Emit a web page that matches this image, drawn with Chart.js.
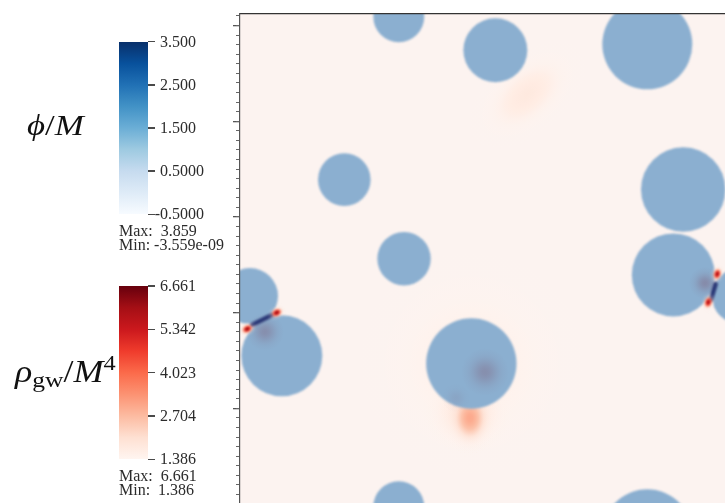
<!DOCTYPE html>
<html>
<head>
<meta charset="utf-8">
<title>Bubble collisions: scalar field and gravitational-wave energy density</title>
<script src="https://cdn.jsdelivr.net/npm/chart.js@4.4.1/dist/chart.umd.min.js"></script>
<style>
  html, body { margin: 0; padding: 0; width: 725px; height: 503px; overflow: hidden; background: #fff; }
  #plot { position: absolute; left: 0; top: 0; }
  .bar { position: absolute; left: 119px; width: 29px; }
  .tick { position: absolute; left: 148px; width: 7px; height: 1.4px; background: #4a4a4a; }
  .lab { position: absolute; font: 16px "Liberation Serif", serif; color: #2b2b2b; line-height: 16px; white-space: pre; }
  .title { position: absolute; font-family: "Liberation Serif", "DejaVu Serif", serif; color: #111; white-space: nowrap; line-height: 1; transform-origin: 0 0; }
  .title i { font-style: italic; }
</style>
</head>
<body>
<canvas id="plot" width="730" height="504"></canvas>
<div class="title" style="left:27px; top:111px; font-size:29px; transform:scaleX(1.2);"><i>ϕ</i>/<i>M</i></div>
<div class="title" style="left:15px; top:356px; font-size:31px; transform:scaleX(1.16);"><i>ρ</i><span style="font-size:22px; position:relative; top:5px;">gw</span>/<i>M</i><span style="font-size:21px; position:relative; top:-12px;">4</span></div>
<script>
// Simulation box side, in grid units (periodic in x and y)
const BOX = 512;

// Bubble centres and radii, grid units
const bubbleX = [165.9, 266.8, 425.6, 109.0, 171.4, 463.1, 452.8, 10.4, 43.7, 241.7];
const bubbleY = [509.1, 474.1, 480.3, 338.9, 256.3, 328.6, 239.3, 217.3, 154.9, 146.8];
const bubbleR = [26.6, 33.4, 47.0, 27.5, 27.9, 44.1, 43.4, 29.3, 42.3, 47.2];

// Gravitational-wave energy density hot spots: centre, peak value, half-widths (grid units), tilt (deg)
const rhoX    = [38.3, 7.6, 498.7, 489.3, 240.3, 300.0, 242.0, 25.0, 238.0];
const rhoY    = [199.9, 182.9, 240.3, 210.8, 90.0, 428.0, 146.8, 185.0, 95.0];
const rhoPeak = [6.3, 6.3, 6.1, 6.1, 3.0, 1.75, 1.55, 2.2, 1.9];
const rhoW    = [7.0, 7.0, 7.0, 7.0, 22, 30, 85, 22, 40];
const rhoH    = [5.0, 5.0, 5.0, 5.0, 30, 52, 85, 22, 36];
const rhoTilt = [-27, -27, 106, 106, 0, 49, 0, 0, 0];

// Compressed field between colliding walls: segment ends, grid units
const wallX1 = [12.5, 496.9];
const wallY1 = [187.0, 229.9];
const wallX2 = [33.4, 492.1];
const wallY2 = [197.5, 213.6];

// Darkened regions inside bubbles: centre, radius (grid units), depth
const shadeX = [26.1, 485.9, 256.0, 225.7];
const shadeY = [180.0, 230.9, 137.9, 110.7];
const shadeR = [20, 17, 25, 15];
const shadeD = [0.45, 0.5, 0.45, 0.14];

// Colour-bar annotations
const phiTicks = ['3.500', '2.500', '1.500', '0.5000', '-0.5000'];
const phiStats = ['Max:  3.859', 'Min: -3.559e-09'];
const rhoTicks = ['6.661', '5.342', '4.023', '2.704', '1.386'];
const rhoStats = ['Max:  6.661', 'Min:  1.386'];
const RHO_MIN = 1.386, RHO_MAX = 6.661;

const REDS  = ['#fff5f0','#fee0d2','#fcbba1','#fc9272','#fb6a4a','#ef3b2c','#cb181d','#a50f15','#67000d'];
const BLUES = ['#f7fbff','#deebf7','#c6dbef','#9ecae1','#6baed6','#4292c6','#2171b5','#08519c','#08306b'];

function rgbOf(h) { return [1, 3, 5].map(i => parseInt(h.substr(i, 2), 16)); }
function cmap(stops, t) {
  t = Math.max(0, Math.min(1, t));
  const f = t * (stops.length - 1), i = Math.min(stops.length - 2, Math.floor(f)), u = f - i;
  const a = rgbOf(stops[i]), b = rgbOf(stops[i + 1]);
  return a.map((v, k) => Math.round(v + (b[k] - v) * u));
}

// ---- colour bars -------------------------------------------------------
function colourBar(top, bottom, stops, ticks, stats) {
  const bar = document.createElement('div');
  bar.className = 'bar';
  bar.style.top = top + 'px';
  bar.style.height = (bottom - top) + 'px';
  bar.style.background = 'linear-gradient(to top,' + stops.join(',') + ')';
  document.body.appendChild(bar);
  const step = (bottom - top) / (ticks.length - 1);
  ticks.forEach((t, i) => {
    const y = top + i * step;
    const tk = document.createElement('div');
    tk.className = 'tick';
    tk.style.top = (y - 0.7) + 'px';
    document.body.appendChild(tk);
    const lb = document.createElement('div');
    lb.className = 'lab';
    lb.textContent = t;
    lb.style.left = (t[0] === '-' ? 154.7 : 160) + 'px';
    lb.style.top = (y - 8) + 'px';
    document.body.appendChild(lb);
  });
  stats.forEach((s, i) => {
    const lb = document.createElement('div');
    lb.className = 'lab';
    lb.textContent = s;
    lb.style.left = '119px';
    lb.style.top = (bottom + 9 + i * 14) + 'px';
    document.body.appendChild(lb);
  });
}
colourBar(41.7, 214.3, BLUES, phiTicks, phiStats);
colourBar(286, 459.3, REDS, rhoTicks, rhoStats);

// ---- bubbles with periodic images ----------------------------------------
const bubbles = [];
bubbleX.forEach((x, i) => {
  for (const dx of [-BOX, 0, BOX]) for (const dy of [-BOX, 0, BOX]) {
    const cx = x + dx, cy = bubbleY[i] + dy, r = bubbleR[i];
    if (cx + r > 0 && cx - r < BOX && cy + r > 0 && cy - r < BOX) bubbles.push({ x: cx, y: cy, size: r });
  }
});

const toPx = (chart, v) => chart.scales.x.getPixelForValue(v) - chart.scales.x.getPixelForValue(0);

// spots are painted weakest first so stronger peaks stay on top
const spotOrder = rhoPeak.map((p, i) => i).sort((a, b) => rhoPeak[a] - rhoPeak[b]);

function drawRhoSpot(ctx, chart, i) {
  const cx = chart.scales.x.getPixelForValue(rhoX[i]);
  const cy = chart.scales.y.getPixelForValue(rhoY[i]);
  const w = toPx(chart, rhoW[i]), h = toPx(chart, rhoH[i]);
  const m = Math.max(w, h), R = m * 1.6;
  ctx.save();
  ctx.translate(cx, cy);
  ctx.rotate(rhoTilt[i] * Math.PI / 180);
  ctx.scale(w / m, h / m);
  const g = ctx.createRadialGradient(0, 0, 0, 0, 0, R);
  for (let k = 0; k <= 12; k++) {
    const t = k / 12, e = Math.exp(-5 * t * t);
    const v = RHO_MIN + (rhoPeak[i] - RHO_MIN) * e;
    const [r, gg, b] = cmap(REDS, (v - RHO_MIN) / (RHO_MAX - RHO_MIN));
    const a = k === 12 ? 0 : Math.min(1, 1.5 * e);
    g.addColorStop(t, `rgba(${r},${gg},${b},${a.toFixed(3)})`);
  }
  ctx.fillStyle = g;
  ctx.beginPath();
  ctx.arc(0, 0, R, 0, Math.PI * 2);
  ctx.fill();
  ctx.restore();
}

const fieldPlugin = {
  id: 'field',
  beforeDraw(chart) {
    const { ctx, chartArea: a } = chart;
    ctx.save();
    ctx.fillStyle = '#fcf3f0';
    ctx.fillRect(a.left, a.top, a.right - a.left, a.bottom - a.top);
    ctx.restore();
  },
  beforeDatasetsDraw(chart) {
    const { ctx, chartArea: a } = chart;
    ctx.save();
    ctx.beginPath(); ctx.rect(a.left, a.top, a.right - a.left, a.bottom - a.top); ctx.clip();
    spotOrder.forEach(i => { if (rhoPeak[i] < 5) drawRhoSpot(ctx, chart, i); });
    ctx.restore();
  },
  beforeDatasetDraw(chart) {
    chart.ctx.save();
    chart.ctx.filter = 'blur(1px)';
  },
  afterDatasetDraw(chart) {
    chart.ctx.restore();
  },
  afterDatasetsDraw(chart) {
    const { ctx, chartArea: a, scales: { x, y } } = chart;
    ctx.save();
    ctx.beginPath(); ctx.rect(a.left, a.top, a.right - a.left, a.bottom - a.top); ctx.clip();
    // darker interior where the field piles up
    shadeX.forEach((sx, i) => {
      const cx = x.getPixelForValue(sx), cy = y.getPixelForValue(shadeY[i]), R = toPx(chart, shadeR[i]);
      const g = ctx.createRadialGradient(cx, cy, 0, cx, cy, R);
      for (let k = 0; k <= 8; k++) {
        const t = k / 8, e = Math.exp(-3.5 * t * t) * (k === 8 ? 0 : 1);
        g.addColorStop(t, `rgba(128,104,132,${(shadeD[i] * e).toFixed(3)})`);
      }
      ctx.fillStyle = g;
      ctx.beginPath(); ctx.arc(cx, cy, R, 0, Math.PI * 2); ctx.fill();
    });
    // walls pressed together at the collision
    ctx.filter = 'blur(1px)';
    ctx.lineCap = 'round';
    wallX1.forEach((_, i) => {
      ctx.strokeStyle = '#2c3a78';
      ctx.lineWidth = 4.6;
      ctx.beginPath();
      ctx.moveTo(x.getPixelForValue(wallX1[i]), y.getPixelForValue(wallY1[i]));
      ctx.lineTo(x.getPixelForValue(wallX2[i]), y.getPixelForValue(wallY2[i]));
      ctx.stroke();
    });
    ctx.filter = 'blur(0.8px)';
    spotOrder.forEach(i => { if (rhoPeak[i] >= 5) drawRhoSpot(ctx, chart, i); });
    ctx.restore();
  }
};

new Chart(document.getElementById('plot'), {
  type: 'scatter',
  data: {
    datasets: [{
      data: bubbles,
      clip: 0,
      pointRadius: c => (c.raw ? toPx(c.chart, c.raw.size) : 0),
      pointHoverRadius: c => (c.raw ? toPx(c.chart, c.raw.size) : 0),
      pointBackgroundColor: 'rgb(139,175,208)',
      pointBorderWidth: 0,
      pointHoverBorderWidth: 0
    }]
  },
  options: {
    responsive: false,
    animation: false,
    events: [],
    layout: { padding: { left: 233, top: 14, right: 0, bottom: 0 } },
    plugins: { legend: { display: false }, tooltip: { enabled: false } },
    scales: {
      x: {
        type: 'linear', position: 'top', min: 0, max: BOX,
        ticks: { display: false },
        grid: { drawOnChartArea: false, drawTicks: false },
        border: { display: true, color: '#333', width: 1.2, z: 2 }
      },
      y: {
        type: 'linear', position: 'left', min: 0, max: BOX, weight: 1,
        ticks: { display: false, stepSize: 100, includeBounds: false },
        grid: { drawOnChartArea: false, drawTicks: true, tickLength: 7, color: '#555', lineWidth: 1.3 },
        border: { display: true, color: '#555', width: 1.2, z: 2 }
      },
      yMinor: {
        type: 'linear', axis: 'y', position: 'left', min: 0, max: BOX, weight: 0,
        afterFit: s => { s.width = 0; },
        ticks: { display: false, stepSize: 10, includeBounds: false },
        grid: { drawOnChartArea: false, drawTicks: true, tickLength: 4, color: '#666', lineWidth: 1 },
        border: { display: false }
      }
    }
  },
  plugins: [fieldPlugin]
});
</script>
</body>
</html>
